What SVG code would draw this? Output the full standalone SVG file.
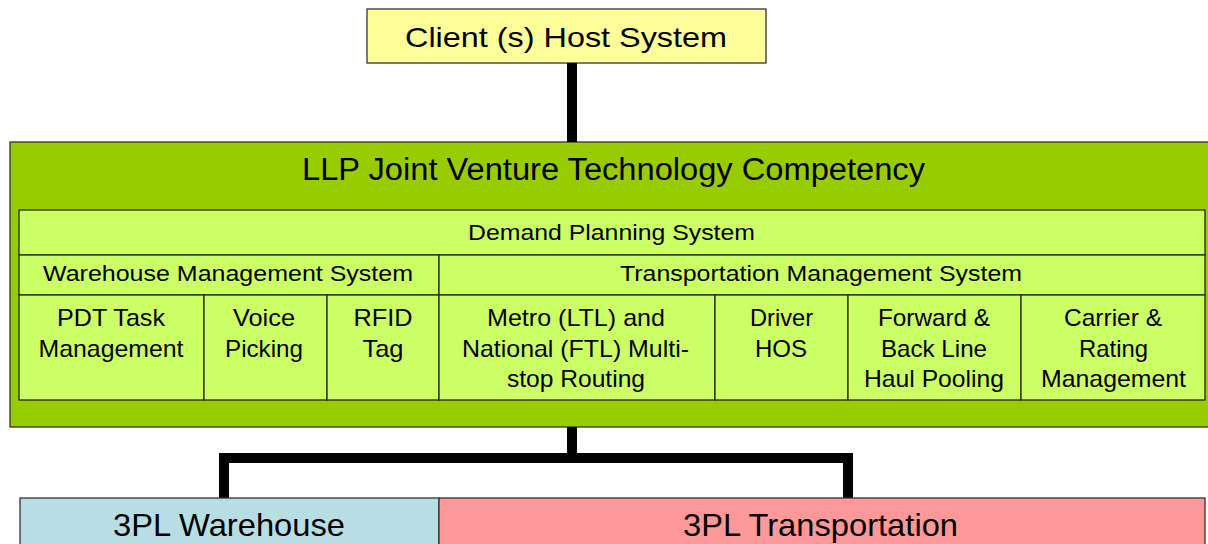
<svg xmlns="http://www.w3.org/2000/svg" width="1208" height="544" viewBox="0 0 1208 544">
<style>
text{font-family:"Liberation Sans",Arial,sans-serif;fill:#000;text-anchor:middle}
.box{stroke:#333;stroke-width:1.3}
.cell{fill:#ccff66;stroke:#2a2a10;stroke-width:1.3}
.h{font-size:22px}
.c{font-size:24px}
.conn{fill:none;stroke:#000;stroke-width:10;stroke-linejoin:miter}
</style>
<rect width="1208" height="544" fill="#fff"/>
<g id="client">
<rect class="box" x="367" y="9" width="399" height="54" fill="#ffff99"/>
<text x="566" y="47" font-size="28" textLength="322" lengthAdjust="spacingAndGlyphs">Client (s) Host System</text>
</g>
<g id="llp">
<rect class="box" x="10" y="142" width="1210" height="285" fill="#99cc00"/>
<text x="613.5" y="180" font-size="31" textLength="623" lengthAdjust="spacingAndGlyphs">LLP Joint Venture Technology Competency</text>
</g>
<g id="demand">
<rect class="cell" x="19" y="210" width="1186" height="45"/>
<text class="h" x="611.5" y="240" textLength="287" lengthAdjust="spacingAndGlyphs">Demand Planning System</text>
</g>
<g id="wms">
<rect class="cell" x="19" y="255" width="420" height="40"/>
<text class="h" x="228" y="281" textLength="370" lengthAdjust="spacingAndGlyphs">Warehouse Management System</text>
</g>
<g id="tms">
<rect class="cell" x="439" y="255" width="766" height="40"/>
<text class="h" x="821" y="281" textLength="402" lengthAdjust="spacingAndGlyphs">Transportation Management System</text>
</g>
<g id="pdt">
<rect class="cell" x="19" y="295" width="185" height="105"/>
<text class="c" x="111" y="326" textLength="108" lengthAdjust="spacingAndGlyphs">PDT Task</text>
<text class="c" x="111" y="357" textLength="145" lengthAdjust="spacingAndGlyphs">Management</text>
</g>
<g id="voice">
<rect class="cell" x="204" y="295" width="123" height="105"/>
<text class="c" x="264" y="326" textLength="62" lengthAdjust="spacingAndGlyphs">Voice</text>
<text class="c" x="264" y="357" textLength="78" lengthAdjust="spacingAndGlyphs">Picking</text>
</g>
<g id="rfid">
<rect class="cell" x="327" y="295" width="112" height="105"/>
<text class="c" x="383" y="326" textLength="59" lengthAdjust="spacingAndGlyphs">RFID</text>
<text class="c" x="383" y="357" textLength="41" lengthAdjust="spacingAndGlyphs">Tag</text>
</g>
<g id="metro">
<rect class="cell" x="439" y="295" width="276" height="105"/>
<text class="c" x="576" y="326" textLength="178" lengthAdjust="spacingAndGlyphs">Metro (LTL) and</text>
<text class="c" x="575.5" y="357" textLength="227" lengthAdjust="spacingAndGlyphs">National (FTL) Multi-</text>
<text class="c" x="576" y="387" textLength="138" lengthAdjust="spacingAndGlyphs">stop Routing</text>
</g>
<g id="driver">
<rect class="cell" x="715" y="295" width="133" height="105"/>
<text class="c" x="781.5" y="326" textLength="63" lengthAdjust="spacingAndGlyphs">Driver</text>
<text class="c" x="781" y="357" textLength="52" lengthAdjust="spacingAndGlyphs">HOS</text>
</g>
<g id="forward">
<rect class="cell" x="848" y="295" width="173" height="105"/>
<text class="c" x="934" y="326" textLength="112" lengthAdjust="spacingAndGlyphs">Forward &amp;</text>
<text class="c" x="934" y="357" textLength="106" lengthAdjust="spacingAndGlyphs">Back Line</text>
<text class="c" x="934" y="387" textLength="140" lengthAdjust="spacingAndGlyphs">Haul Pooling</text>
</g>
<g id="carrier">
<rect class="cell" x="1021" y="295" width="184" height="105"/>
<text class="c" x="1113" y="326" textLength="98" lengthAdjust="spacingAndGlyphs">Carrier &amp;</text>
<text class="c" x="1113.5" y="357" textLength="69" lengthAdjust="spacingAndGlyphs">Rating</text>
<text class="c" x="1113.5" y="387" textLength="145" lengthAdjust="spacingAndGlyphs">Management</text>
</g>
<g id="connectors">
<path class="conn" d="M572 63 V142"/>
<path class="conn" d="M572 427 V458"/>
<path class="conn" d="M224 498 V458 H848 V498"/>
</g>
<g id="warehouse">
<rect class="box" x="20" y="498" width="419" height="60" fill="#b7dee2"/>
<text x="229" y="536" font-size="32" textLength="232" lengthAdjust="spacingAndGlyphs">3PL Warehouse</text>
</g>
<g id="transportation">
<rect class="box" x="439" y="498" width="766" height="60" fill="#ff9999"/>
<text x="820.5" y="536" font-size="32" textLength="275" lengthAdjust="spacingAndGlyphs">3PL Transportation</text>
</g>
</svg>
